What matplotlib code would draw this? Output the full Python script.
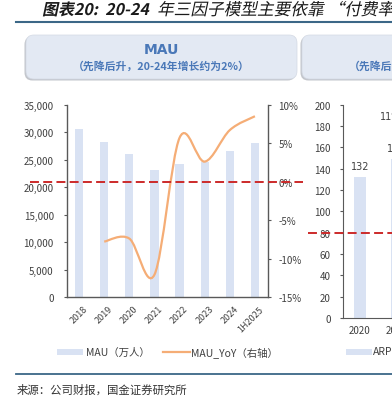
import matplotlib
matplotlib.use('Agg')
import matplotlib.pyplot as plt
import numpy as np
from matplotlib.path import Path
from matplotlib.patches import PathPatch, FancyBboxPatch, Rectangle
from matplotlib.lines import Line2D
from matplotlib.patheffects import AbstractPathEffect
from matplotlib.transforms import Affine2D, ScaledTranslation
from matplotlib.ticker import FuncFormatter

plt.rcParams['font.family'] = ['Noto Sans CJK SC', 'DejaVu Sans']

# data
years = ['2018', '2019', '2020', '2021', '2022', '2023', '2024', '1H2025']
mau = [30600, 28300, 26000, 23100, 24200, 24500, 26600, 28000]      # 万人
mau_yoy = [None, -7.8, -7.4, -12.1, 5.7, 2.6, 6.7, 8.5]             # %
arppu_years = ['2020', '2021']
arppu = [132, 149]
arppu_labels = ['132', '149']

W, H = 392, 402
BAR = '#d9e2f3'
LINE = '#f5ad76'
RED = '#cc2a2a'
BLUE = '#4a78b8'
AX = '#595959'
TXT = '#404040'

def fx(px):
    return px / W

def fy(py):
    return 1 - py / H


class Slant(AbstractPathEffect):
    # fake italic for the CJK title
    def __init__(self, y0, deg=12):
        super().__init__()
        self.y0 = y0
        self.deg = deg

    def draw_path(self, renderer, gc, tpath, affine, rgbFace=None):
        t = affine + Affine2D().translate(0, -self.y0).skew_deg(self.deg, 0).translate(0, self.y0)
        renderer.draw_path(gc, tpath, t, rgbFace)


def smooth_path(xs, ys):
    # excel style smoothed line as bezier segments
    pts = np.column_stack([xs, ys])
    verts = [pts[0]]
    codes = [Path.MOVETO]
    n = len(pts)
    for i in range(n - 1):
        p0 = pts[i - 1] if i > 0 else pts[i]
        p1 = pts[i]
        p2 = pts[i + 1]
        p3 = pts[i + 2] if i + 2 < n else pts[i + 1]
        c1 = p1 + (p2 - p0) / 6
        c2 = p2 - (p3 - p1) / 6
        verts += [c1, c2, p2]
        codes += [Path.CURVE4] * 3
    return Path(verts, codes)


fig = plt.figure(figsize=(W / 100, H / 100), dpi=100)

# title (bold part + regular part)
fig.text(fx(42), fy(16), '图表20:  20-24', fontsize=11.5, fontweight='bold',
         color='#1a1a1a', va='baseline', ha='left', path_effects=[Slant(H - 16)])
fig.text(fx(157), fy(16), '年三因子模型主要依靠 “付费率”驱动', fontsize=12,
         color='#1a1a1a', va='baseline', ha='left', path_effects=[Slant(H - 16)])
fig.add_artist(Line2D([fx(16), fx(400)], [fy(23), fy(23)], color='#3b6787', lw=1.5))

# header boxes
for x0, x1, head, sub in [(26, 297, 'MAU', '（先降后升，20-24年增长约为2%）'),
                          (302, 573, 'ARPPU', '（先降后涨，20-24年增长约为X%）')]:
    shadow = FancyBboxPatch((fx(x0 - 1.5), fy(81.5)), fx(x1 - x0), fy(36) - fy(80),
                            boxstyle='round,pad=0,rounding_size=0.02',
                            transform=fig.transFigure, fc='#c3c6cc', ec='none')
    box = FancyBboxPatch((fx(x0), fy(80)), fx(x1 - x0), fy(36) - fy(80),
                         boxstyle='round,pad=0,rounding_size=0.02',
                         transform=fig.transFigure, fc='#e3e9f3', ec='#d3d9e3', lw=0.5)
    fig.add_artist(shadow)
    fig.add_artist(box)
    cx = fx((x0 + x1) / 2)
    fig.text(cx, fy(50), head, fontsize=10, fontweight='bold', color=BLUE,
             ha='center', va='center', family=['DejaVu Sans'])
    fig.text(cx, fy(66), sub, fontsize=7.8, fontweight='bold', color=BLUE,
             ha='center', va='center')

# left chart: MAU bars + yoy line
ax = fig.add_axes([fx(67), fy(298), fx(268 - 67), fy(105.7) - fy(298)])
x = np.arange(len(years))
ax.bar(x, mau, width=0.33, color=BAR, zorder=1)
ax.set_xlim(-0.48, 7.52)
ax.set_ylim(0, 35000)
ax.set_yticks(np.arange(0, 35001, 5000))
ax.yaxis.set_major_formatter(FuncFormatter(lambda v, p: f'{v:,.0f}'))
ax.set_xticks(x)
ax.set_xticklabels(years, rotation=45, ha='right', va='top', rotation_mode='anchor')
ax.tick_params(axis='x', length=0, pad=5, labelsize=6.5, colors=TXT)
ax.tick_params(axis='y', length=2.5, pad=7, labelsize=7, colors=TXT, color=AX)
shift = ScaledTranslation(4 / 100, 0, fig.dpi_scale_trans)
for lab in ax.get_xticklabels():
    lab.set_color(TXT)
    lab.set_transform(lab.get_transform() + shift)
ax.spines['top'].set_visible(False)
ax.spines['right'].set_visible(False)
for s in ['left', 'bottom']:
    ax.spines[s].set_color(AX)
    ax.spines[s].set_linewidth(1)

ax2 = ax.twinx()
ax2.set_ylim(-15, 10)
ax2.set_yticks(np.arange(-15, 11, 5))
ax2.yaxis.set_major_formatter(FuncFormatter(lambda v, p: f'{v:.0f}%'))
ax2.tick_params(axis='y', length=2.5, pad=5, labelsize=7, colors=TXT, color=AX)
for s in ['top', 'left', 'bottom']:
    ax2.spines[s].set_visible(False)
ax2.spines['right'].set_color(AX)
ax2.spines['right'].set_linewidth(1)
ax2.set_xlim(-0.48, 7.52)
yx = [i for i, v in enumerate(mau_yoy) if v is not None]
yv = [v for v in mau_yoy if v is not None]
ax2.add_patch(PathPatch(smooth_path(yx, yv), fill=False, ec=LINE, lw=1.6, zorder=3))
ax2.axhline(0, xmin=-0.184, xmax=1.174, clip_on=False, color=RED, lw=1.4,
            dashes=(4.6, 2.2), zorder=4)

# right chart: ARPPU (cut off by the crop)
ax3 = fig.add_axes([fx(342.7), fy(319), fx(181.6), fy(105.7) - fy(319)])
x3 = np.arange(len(arppu))
ax3.bar(x3, arppu, width=0.32, color=BAR)
for xi, v, lb in zip(x3, arppu, arppu_labels):
    ax3.text(xi, v + 6, lb, ha='center', va='bottom', fontsize=7, color=TXT,
             family=['DejaVu Sans'])
ax3.text(0.85, 185, '11%', ha='center', va='bottom', fontsize=7, color=TXT,
         family=['DejaVu Sans'])
ax3.set_xlim(-0.474, 4.5)
ax3.set_ylim(0, 200)
ax3.set_yticks(np.arange(0, 201, 20))
ax3.set_xticks(x3)
ax3.set_xticklabels(arppu_years)
ax3.tick_params(axis='x', length=0, pad=5, labelsize=7, colors=TXT)
ax3.tick_params(axis='y', length=2.5, pad=6, labelsize=7, colors=TXT, color=AX)
ax3.spines['top'].set_visible(False)
ax3.spines['right'].set_visible(False)
for s in ['left', 'bottom']:
    ax3.spines[s].set_color(AX)
ax3.axhline(80, xmin=-0.193, xmax=1.0, clip_on=False, color=RED, lw=1.4,
            dashes=(4.6, 2.2), zorder=4)

# legends drawn by hand under each chart
fig.add_artist(Rectangle((fx(57), fy(356)), fx(26), fy(350) - fy(356),
                         transform=fig.transFigure, fc=BAR, ec='none'))
fig.text(fx(86), fy(353), 'MAU（万人）', fontsize=7.5, color=TXT, va='center')
fig.add_artist(Line2D([fx(163), fx(190)], [fy(353), fy(353)], color=LINE, lw=1.6))
fig.text(fx(191), fy(353), 'MAU_YoY（右轴）', fontsize=7.5, color=TXT, va='center')
fig.add_artist(Rectangle((fx(346), fy(356)), fx(26), fy(350) - fy(356),
                         transform=fig.transFigure, fc=BAR, ec='none'))
fig.text(fx(373), fy(353), 'ARPPU（元）', fontsize=7.5, color=TXT, va='center')

# source
fig.add_artist(Line2D([fx(16), fx(400)], [fy(375), fy(375)], color='#3b6787', lw=1.3))
fig.text(fx(17), fy(390), '来源：公司财报，国金证券研究所', fontsize=8.2, color='#333333',
         va='center', ha='left')

fig.savefig('out.png', dpi=100)
